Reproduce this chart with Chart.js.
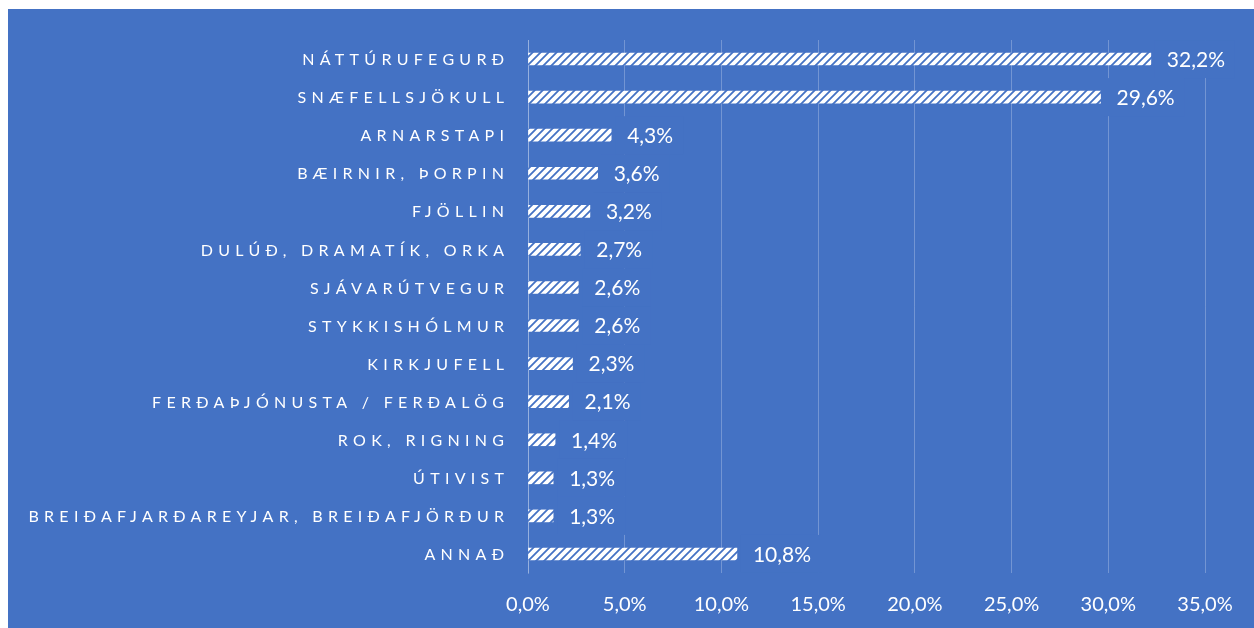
<!DOCTYPE html>
<html>
<head>
<meta charset="utf-8">
<script src="https://cdn.jsdelivr.net/npm/chart.js@4"></script>
<style>
    html, body { margin: 0; padding: 0; background: #ffffff; }
    #wrap {
        position: absolute;
        left: 8px;
        top: 9px;
        width: 1246px;
        height: 619px;
        background: #4472C4;
    }
</style>
</head>
<body>
<div id="wrap"><canvas id="chart" width="1246" height="619"></canvas></div>
<script>
// Snæfellsnes - what comes to mind (share of answers)

const categories = [
    'NÁTTÚRUFEGURÐ',
    'SNÆFELLSJÖKULL',
    'ARNARSTAPI',
    'BÆIRNIR, ÞORPIN',
    'FJÖLLIN',
    'DULÚÐ, DRAMATÍK, ORKA',
    'SJÁVARÚTVEGUR',
    'STYKKISHÓLMUR',
    'KIRKJUFELL',
    'FERÐAÞJÓNUSTA / FERÐALÖG',
    'ROK, RIGNING',
    'ÚTIVIST',
    'BREIÐAFJARÐAREYJAR, BREIÐAFJÖRÐUR',
    'ANNAÐ'
];

const shares = [32.2, 29.6, 4.3, 3.6, 3.2, 2.7, 2.6, 2.6, 2.3, 2.1, 1.4, 1.3, 1.3, 10.8];

const axisMax = 35;
const axisStep = 5;

const BG = '#4472C4';
const FONT = 'Lato, "Open Sans", sans-serif';

function fmtPct(v) {
    return v.toFixed(1).replace('.', ',') + '%';
}

// white bar with thin blue diagonal stripes
function makeHatch() {
    const c = document.createElement('canvas');
    c.width = 8;
    c.height = 8;
    const g = c.getContext('2d');
    g.fillStyle = '#ffffff';
    g.fillRect(0, 0, 8, 8);
    g.strokeStyle = BG;
    g.lineWidth = 1.8;
    g.beginPath();
    g.moveTo(-2, 10); g.lineTo(10, -2);
    g.moveTo(-6, 6); g.lineTo(6, -6);
    g.moveTo(2, 14); g.lineTo(14, 2);
    g.stroke();
    return document.getElementById('chart').getContext('2d').createPattern(c, 'repeat');
}

// category labels with spaced letters
const categoryLabels = {
    id: 'categoryLabels',
    afterDraw(chart) {
        const ctx = chart.ctx;
        const y = chart.scales.y;
        const spacing = 5.3;
        ctx.save();
        ctx.font = '16px ' + FONT;
        ctx.fillStyle = '#ffffff';
        ctx.textAlign = 'right';
        ctx.textBaseline = 'middle';
        ctx.letterSpacing = spacing + 'px';
        categories.forEach((label, i) => {
            ctx.fillText(label, chart.chartArea.left - 24 + spacing, y.getPixelForValue(i) + 1);
        });
        ctx.restore();
    }
};

// value labels on a blue box that hides the grid behind them
const valueLabels = {
    id: 'valueLabels',
    afterDatasetsDraw(chart) {
        const ctx = chart.ctx;
        const meta = chart.getDatasetMeta(0);
        ctx.save();
        ctx.font = '21px ' + FONT;
        ctx.textBaseline = 'middle';
        ctx.textAlign = 'left';
        meta.data.forEach((bar, i) => {
            const text = fmtPct(shares[i]);
            const w = ctx.measureText(text).width;
            const x0 = bar.x + 4;
            ctx.fillStyle = BG;
            ctx.fillRect(x0, bar.y - 19, w + 22, 38);
            ctx.fillStyle = '#ffffff';
            ctx.fillText(text, bar.x + 16, bar.y + 1);
        });
        ctx.restore();
    }
};

const ctx = document.getElementById('chart').getContext('2d');

new Chart(ctx, {
    type: 'bar',
    data: {
        labels: categories,
        datasets: [{
            data: shares,
            backgroundColor: makeHatch(),
            borderWidth: 0,
            barThickness: 12
        }]
    },
    options: {
        indexAxis: 'y',
        responsive: false,
        animation: false,
        layout: {
            padding: { top: 31, right: 49, bottom: 0, left: 0 }
        },
        plugins: {
            legend: { display: false },
            tooltip: { enabled: false }
        },
        scales: {
            x: {
                min: 0,
                max: axisMax,
                ticks: {
                    stepSize: axisStep,
                    color: '#ffffff',
                    font: { family: FONT, size: 20 },
                    padding: 20,
                    callback: v => fmtPct(v)
                },
                grid: {
                    color: 'rgba(255,255,255,0.25)',
                    lineWidth: 1,
                    drawTicks: false
                },
                border: { display: false },
                afterFit(scale) { scale.height = 55; }
            },
            y: {
                ticks: { display: false },
                grid: { display: false },
                border: { display: true, color: 'rgba(255,255,255,0.25)' },
                afterFit(scale) { scale.width = 520; }
            }
        }
    },
    plugins: [categoryLabels, valueLabels]
});
</script>
</body>
</html>
